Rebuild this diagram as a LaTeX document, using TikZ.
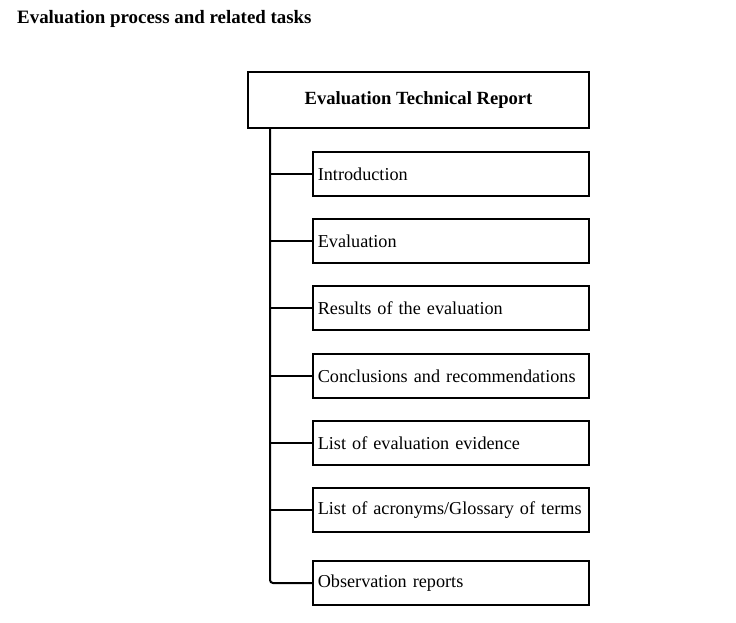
\documentclass[tikz,border=0pt]{standalone}
\usepackage{fontspec}
\setmainfont{Liberation Serif}
\usetikzlibrary{positioning}

\begin{document}
\begin{tikzpicture}[
  x=1pt,y=-1pt,
  every node/.style={font=\fontsize{18.2}{20}\selectfont},
  head/.style={draw,line width=1.6pt,minimum width=341pt,minimum height=56pt,
    font=\fontsize{18.6}{20}\selectfont\bfseries},
  part/.style={draw,line width=1.6pt,minimum width=276pt,minimum height=44pt,
    text width=266pt,align=left,inner sep=5pt,anchor=west},
  link/.style={line width=2pt}
]
  \useasboundingbox (0,0) rectangle (736,622);
  \node[anchor=north west,inner sep=0pt,font=\fontsize{18.9}{21}\selectfont\bfseries]
    (title) at (17,10) {Evaluation process and related tasks};
  \node[head] (etr) at (418.5,100) {Evaluation Technical Report};
  \node[part] (intro) at (312,174) {Introduction};
  \node[part] (eval) at (312,241) {Evaluation};
  \node[part] (results) at (312,308) {Results of the evaluation};
  \node[part] (concl) at (312,376) {Conclusions and recommendations};
  \node[part] (evid) at (312,443) {List of evaluation evidence};
  \node[part] (gloss) at (312,510) {List of acronyms/Glossary of terms};
  \node[part] (obs) at (312,583) {Observation reports};
  \coordinate (spine) at (270,128);
  \draw[link,rounded corners=3pt] (etr.south -| spine) |- (obs.west);
  \foreach \p in {intro,eval,results,concl,evid,gloss}
    \draw[link] (\p.west -| spine) -- (\p.west);
\end{tikzpicture}
\end{document}
